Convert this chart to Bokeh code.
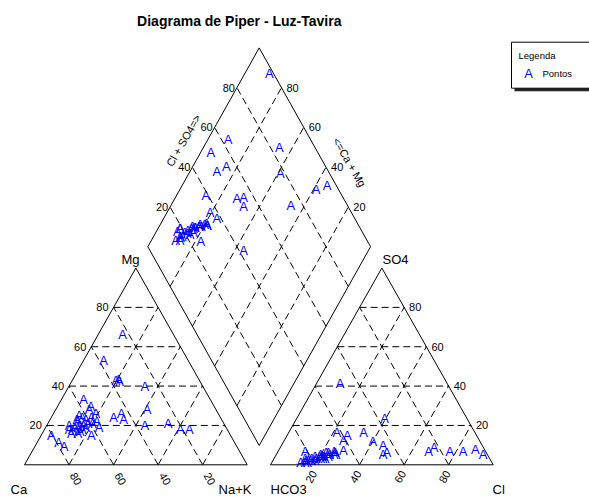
import numpy as np
from bokeh.plotting import figure
from bokeh.models import Range1d, ColumnDataSource
from bokeh.core.properties import value
from bokeh.embed import file_html
from bokeh.resources import INLINE

# ---------------- data (percent of meq/L) ----------------
title_text = "Diagrama de Piper - Luz-Tavira"
legend_title = "Legenda"
legend_label = "Pontos"
marker_char = "A"
tick_values = [20, 40, 60, 80]

ca = [23, 17, 21, 25, 36, 31, 26, 44, 48, 80.5, 43.5, 55.5, 38, 63, 77.5, 57, 37.5,
      65, 65, 62, 61, 57, 58, 61, 59, 71, 69.5, 68, 66.5, 65, 65, 63, 71, 68, 66.5,
      70, 56.5, 55, 63.5, 36, 36, 57, 79, 62.5]
mg = [66, 18, 18, 21, 20, 28, 40, 23, 24, 15, 26, 29.5, 53, 25, 9.5, 19, 43,
      23, 22, 24, 23, 28, 24, 21, 21, 18, 18, 19, 19, 20, 18, 19, 16, 16, 17,
      20, 22, 26, 20, 43.5, 42.5, 33, 11.5, 15]
nak = [11, 65, 61, 54, 44, 41, 34, 33, 28, 4.5, 30.5, 15, 9, 12, 13, 24, 19.5,
       12, 13, 14, 16, 15, 18, 18, 20, 11, 12.5, 13, 14.5, 15, 17, 18, 13, 16, 16.5,
       10, 21.5, 19, 16.5, 20.5, 21.5, 10, 9.5, 22.5]
hco3 = [2, 4, 10, 25.5, 58, 22, 16, 47, 48, 48, 44.5, 44.5, 37, 50, 61, 62, 63.5,
        83, 82, 78, 75, 75, 72, 72, 69, 86, 83, 80, 79, 76, 76, 71, 84, 78, 74,
        81, 68, 71, 74, 68, 68, 81, 83, 75]
so4 = [5, 8, 7, 7, 15, 9, 7, 5, 12, 41.5, 10, 6.5, 23.5, 16.5, 12.5, 16.5, 7.5,
       3, 2, 4, 5, 3, 4, 6, 5, 1, 2, 3, 2, 4, 3, 6, 1, 3, 4,
       7, 7, 5, 3, 5, 6, 2, 1, 4]
cl = [93, 88, 83, 67.5, 27, 69, 77, 48, 40, 10.5, 45.5, 49, 39.5, 33.5, 26.5, 21.5, 29,
      14, 16, 18, 20, 22, 24, 22, 26, 13, 15, 17, 19, 20, 21, 23, 15, 19, 22,
      12, 25, 24, 23, 27, 26, 17, 16, 21]

# ---------------- geometry (pixel-calibrated) ----------------
S = 222.7                 # px per unit (triangle side)
X0PX, Y0PX = 24.0, 464.3  # page position of Ca corner
W, H = 589, 497


def P(px, py):
    return ((px - X0PX) / S, (Y0PX - py) / S)


def d(pix):
    return pix / S


HT = 196.8 / S            # triangle height
G = (270.0 - X0PX) / S    # x of HCO3 corner
BX, BY = P(258.7, 445.0)  # diamond bottom vertex
HD = 198.8 / S            # diamond half height

FONT = value("Liberation Sans")

p = figure(width=W, height=H,
           x_range=Range1d(P(0, 0)[0], P(W, 0)[0]),
           y_range=Range1d(P(0, H)[1], P(0, 0)[1]),
           output_backend="svg", toolbar_location=None, min_border=0,
           x_axis_location=None, y_axis_location=None)
p.grid.visible = False
p.outline_line_color = None
p.background_fill_color = "white"
p.border_fill_color = "white"


def diamond_pt(cm, cs):
    return (BX + 0.5 * (cs - cm), BY + HD * (cs + cm))


# ---------------- dashed grids ----------------
gx, gy = [], []
for k in np.array(tick_values) / 100.0:
    # left triangle
    gx.append([0.5 * k, 1 - 0.5 * k]); gy.append([HT * k, HT * k])            # Mg const
    gx.append([k, k + 0.5 * (1 - k)]); gy.append([0, HT * (1 - k)])           # NaK const
    gx.append([1 - k, 0.5 * (1 - k)]); gy.append([0, HT * (1 - k)])           # Ca const
    # right triangle
    gx.append([G + 0.5 * k, G + 1 - 0.5 * k]); gy.append([HT * k, HT * k])    # SO4 const
    gx.append([G + k, G + k + 0.5 * (1 - k)]); gy.append([0, HT * (1 - k)])   # Cl const
    gx.append([G + 1 - k, G + 0.5 * (1 - k)]); gy.append([0, HT * (1 - k)])   # HCO3 const
    # diamond
    a0 = diamond_pt(k, 0); a1 = diamond_pt(k, 1)
    gx.append([a0[0], a1[0]]); gy.append([a0[1], a1[1]])
    b0 = diamond_pt(0, k); b1 = diamond_pt(1, k)
    gx.append([b0[0], b1[0]]); gy.append([b0[1], b1[1]])
p.multi_line(gx, gy, line_color="black", line_width=1, line_dash="7 4")

# ---------------- outlines ----------------
dl = diamond_pt(1, 0); dt = diamond_pt(1, 1); dr = diamond_pt(0, 1); db = diamond_pt(0, 0)
p.multi_line([[0, 1, 0.5, 0], [G, G + 1, G + 0.5, G],
              [db[0], dl[0], dt[0], dr[0], db[0]]],
             [[0, 0, HT, 0], [0, 0, HT, 0],
              [db[1], dl[1], dt[1], dr[1], db[1]]],
             line_color="black", line_width=1)


def put(x, y, texts, size, angle=0.0, align="center", baseline="middle",
        style="normal", color="black"):
    p.text(x=list(x), y=list(y), text=list(texts), angle=angle,
           text_font=FONT, text_font_size=size, text_align=align,
           text_baseline=baseline, text_font_style=style, text_color=color)


kk = np.array(tick_values) / 100.0
lab = [str(t) for t in tick_values]
# left triangle Mg ticks (left edge)
put(0.5 * kk - d(5), HT * kk, lab, "11px", align="right")
# left triangle bottom (Ca) ticks, rotated
put((1 - kk) + d(7), np.zeros(4) - d(14), lab, "11px", angle=-np.pi / 3)
# right triangle SO4 ticks (right edge)
put(G + 1 - 0.5 * kk + d(5), HT * kk, lab, "11px", align="left")
# right triangle bottom (Cl) ticks
put(G + kk - d(4), np.zeros(4) - d(12), lab, "11px", angle=np.pi / 3)
# diamond ticks
lpts = [diamond_pt(1, t) for t in kk]
put([q[0] - d(2) for q in lpts], [q[1] for q in lpts], lab, "11px", align="right")
rpts = [diamond_pt(t, 1) for t in kk]
put([q[0] + d(5) for q in rpts], [q[1] for q in rpts], lab, "11px", align="left")

# corner / axis names
cx, cy = zip(*[P(10, 489), P(251, 489), P(270, 489), P(492, 489)])
put(cx[0:1], cy[0:1], ["Ca"], "13px", align="left")
put(cx[1:2], cy[1:2], ["Na+K"], "13px", align="right")
put(cx[2:3], cy[2:3], ["HCO3"], "13px", align="left")
put(cx[3:4], cy[3:4], ["Cl"], "13px", align="left")
mx, my = P(130, 259)
put([mx], [my], ["Mg"], "13px")
sx, sy = P(395, 259)
put([sx], [sy], ["SO4"], "13px")
t1 = P(183, 140)
put([t1[0]], [t1[1]], ["Cl + SO4=>"], "11px", angle=np.pi / 3)
t2 = P(349, 161.7)
put([t2[0]], [t2[1]], ["<=Ca + Mg"], "11px", angle=-np.pi / 3)

# title
tx, ty = P(238.8, 20)
put([tx], [ty], [title_text], "14px", style="bold")

# ---------------- data points ----------------
ca_a, mg_a, nak_a = map(np.array, (ca, mg, nak))
hc_a, so_a, cl_a = map(np.array, (hco3, so4, cl))
ct = ca_a + mg_a + nak_a
at = hc_a + so_a + cl_a
m = mg_a / ct; n = nak_a / ct
s = so_a / at; c = cl_a / at
xc = n + 0.5 * m; yc = HT * m
xa = G + c + 0.5 * s; ya = HT * s
cm = 1 - n; cs = s + c
xd = BX + 0.5 * (cs - cm); yd = BY + HD * (cs + cm)

src = ColumnDataSource(dict(x=np.concatenate([xc, xa, xd]),
                            y=np.concatenate([yc, ya, yd])))
p.text(x="x", y="y", text=value(marker_char), source=src, text_color="#0000FF",
       text_font=FONT, text_font_size="13px", text_align="center",
       text_baseline="middle")

# ---------------- legend ----------------
l0 = P(514, 44.7); l1 = P(600, 90.7)
p.quad(left=[l0[0]], right=[l1[0]], top=[l0[1]], bottom=[l1[1]],
       fill_color="#222222", line_color=None)
b0 = P(511, 41.7); b1 = P(597, 87.7)
p.quad(left=[b0[0]], right=[b1[0]], top=[b0[1]], bottom=[b1[1]],
       fill_color="white", line_color="black", line_width=1)
lg = P(518, 55)
put([lg[0]], [lg[1]], [legend_title], "9.5px", align="left")
la = P(528, 73)
put([la[0]], [la[1]], [marker_char], "13px", color="#0000FF")
lp = P(542, 73)
put([lp[0]], [lp[1]], [legend_label], "9.5px", align="left")

open("out.html", "w").write(file_html(p, INLINE))
